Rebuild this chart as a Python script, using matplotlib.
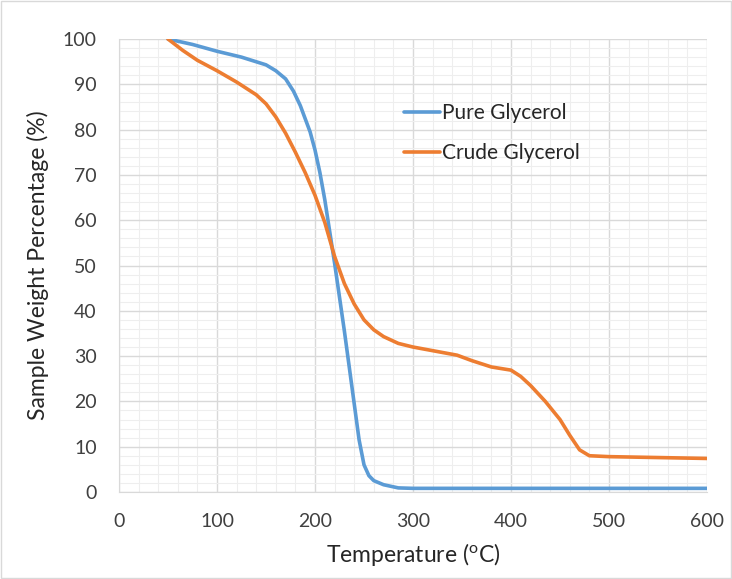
import numpy as np
import matplotlib
matplotlib.use("Agg")
import matplotlib.pyplot as plt
from matplotlib.ticker import MultipleLocator

plt.rcParams['font.family'] = ['Lato', 'DejaVu Sans']
plt.rcParams['mathtext.default'] = 'regular'

# Pure glycerol (TGA)
pure_temp = [50, 75, 100, 125, 150, 160, 170, 178, 185, 195, 200, 205, 210, 215, 220, 225,
             230, 235, 240, 245, 250, 255, 260, 270, 285, 300, 400, 500, 600]
pure_wt = [100, 98.8, 97.3, 96.0, 94.3, 93.0, 91.2, 88.5, 85.3, 79.5, 75.5, 70.5, 64.5, 57.5, 50.5, 43.0,
           35.5, 27.5, 19.5, 11.5, 6.0, 3.6, 2.5, 1.6, 0.9, 0.8, 0.8, 0.8, 0.8]

# Crude glycerol (TGA)
crude_temp = [50, 65, 80, 100, 120, 140, 150, 160, 170, 180, 190, 200, 210, 220, 230,
              240, 250, 260, 270, 285, 300, 320, 345, 360, 380, 400, 410, 420, 435, 450,
              460, 470, 480, 500, 550, 600]
crude_wt = [100, 97.5, 95.3, 93.0, 90.5, 87.7, 85.7, 82.8, 79.2, 75.0, 70.5, 65.5, 59.5, 52.0, 46.0,
            41.5, 38.0, 35.8, 34.3, 32.8, 32.0, 31.2, 30.2, 29.0, 27.6, 26.9, 25.5, 23.5, 20.0, 16.0,
            12.5, 9.3, 8.0, 7.8, 7.6, 7.4]

fig = plt.figure(figsize=(7.32, 5.79), dpi=100)
ax = fig.add_axes([0.1626, 0.1503, 0.8032, 0.7823])

ax.plot(pure_temp, pure_wt, color='#5b9bd5', lw=2.6, label='Pure Glycerol', solid_capstyle='round')
ax.plot(crude_temp, crude_wt, color='#ed7d31', lw=2.6, label='Crude Glycerol', solid_capstyle='round')

ax.set_xlim(0, 600)
ax.set_ylim(0, 100)
ax.xaxis.set_major_locator(MultipleLocator(100))
ax.yaxis.set_major_locator(MultipleLocator(10))
ax.xaxis.set_minor_locator(MultipleLocator(20))
ax.yaxis.set_minor_locator(MultipleLocator(2))
ax.grid(which='major', color='#d9d9d9', lw=1.0)
ax.grid(which='minor', color='#eeeeee', lw=0.8)
ax.set_axisbelow(True)

for s in ['top', 'right']:
    ax.spines[s].set_visible(False)
for s in ['left', 'bottom']:
    ax.spines[s].set_color('#d9d9d9')
ax.tick_params(which='both', length=0, labelsize=14, colors='#404040')
ax.tick_params(axis='y', pad=16)
ax.tick_params(axis='x', pad=15)

ax.set_xlabel('Temperature ($^{o}$C)', fontsize=16.5, color='#262626', labelpad=8)
ax.set_ylabel('Sample Weight Percentage (%)', fontsize=16.5, color='#262626', labelpad=10)

leg = ax.legend(loc='upper left', bbox_to_anchor=(0.452, 0.90), frameon=False, fontsize=15,
                handlelength=1.75, handletextpad=0.12, labelspacing=0.95)
for t in leg.get_texts():
    t.set_color('#262626')

fig.patches.append(plt.Rectangle((0.002, 0.002), 0.996, 0.996, transform=fig.transFigure,
                                 fill=False, edgecolor='#d9d9d9', lw=1))

fig.savefig('out.png', dpi=100)
